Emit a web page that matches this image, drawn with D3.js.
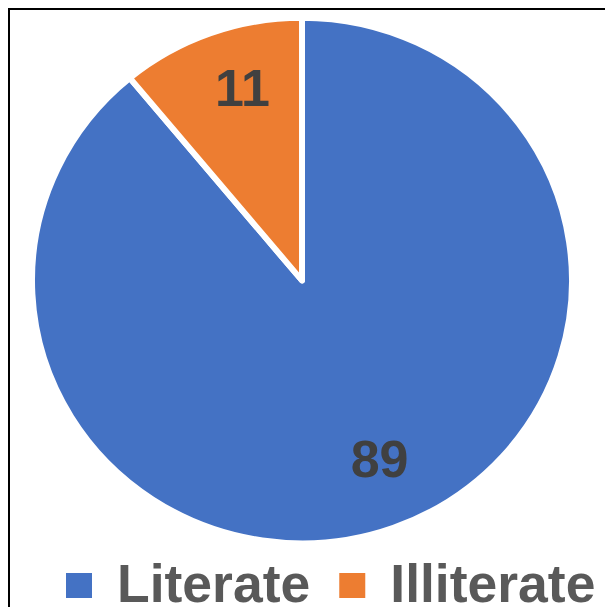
<!DOCTYPE html>
<html>
<head>
<meta charset="utf-8">
<script src="https://cdn.jsdelivr.net/npm/d3@7"></script>
<style>
  html, body { margin: 0; padding: 0; background: #fff; overflow: hidden; }
  svg { display: block; }
</style>
</head>
<body>
<svg id="chart" width="605" height="607"></svg>
<script>
// Data
const categories = ["Literate", "Illiterate"];
const values = [89, 11];
const colors = ["#4472C4", "#ED7D31"];

const svg = d3.select("#chart");
const W = 605, H = 607;

// Chart frame (cropped: only top and left edges visible)
svg.append("rect")
  .attr("x", 9).attr("y", 9)
  .attr("width", 800).attr("height", 800)
  .attr("fill", "none").attr("stroke", "#000").attr("stroke-width", 2);

const cx = 302, cy = 280.5;
const R = 270;
const sy = 0.973;

const pie = d3.pie().sort(null).value(d => d.value);
const data = pie(categories.map((c, i) => ({ name: c, value: values[i], color: colors[i] })));
const arc = d3.arc().innerRadius(0).outerRadius(R);
const labelArc = d3.arc().innerRadius(R * 0.75).outerRadius(R * 0.75);

const g = svg.append("g").attr("transform", `translate(${cx},${cy}) scale(1,${sy})`);
g.selectAll("path.slice")
  .data(data)
  .join("path")
  .attr("class", "slice")
  .attr("d", arc)
  .attr("fill", d => d.data.color)
  .attr("stroke", "#fff")
  .attr("stroke-width", 6)
  .attr("stroke-linejoin", "round");

// Data labels
svg.append("g").selectAll("text.lbl")
  .data(data)
  .join("text")
  .attr("class", "lbl")
  .attr("x", d => cx + labelArc.centroid(d)[0] + 9)
  .attr("y", d => cy + labelArc.centroid(d)[1] * sy - 8)
  .attr("dy", "0.36em")
  .attr("text-anchor", "middle")
  .attr("font-family", "'Liberation Sans', Arial, sans-serif")
  .attr("font-weight", "bold")
  .attr("font-size", 52)
  .attr("fill", "#404040")
  .text(d => d.data.value);

// Legend
const legend = svg.append("g");
const fs = 53.5;
const baseY = 602;
let x = 66;
categories.forEach((c, i) => {
  legend.append("rect")
    .attr("x", x).attr("y", 573)
    .attr("width", 26).attr("height", 25)
    .attr("fill", colors[i]);
  const t = legend.append("text")
    .attr("x", x + 51).attr("y", baseY)
    .attr("font-family", "'Liberation Sans', Arial, sans-serif")
    .attr("font-weight", "bold")
    .attr("font-size", fs)
    .attr("fill", "#595959")
    .text(c);
  x = x + 51 + t.node().getComputedTextLength() + 29;
});
</script>
</body>
</html>
